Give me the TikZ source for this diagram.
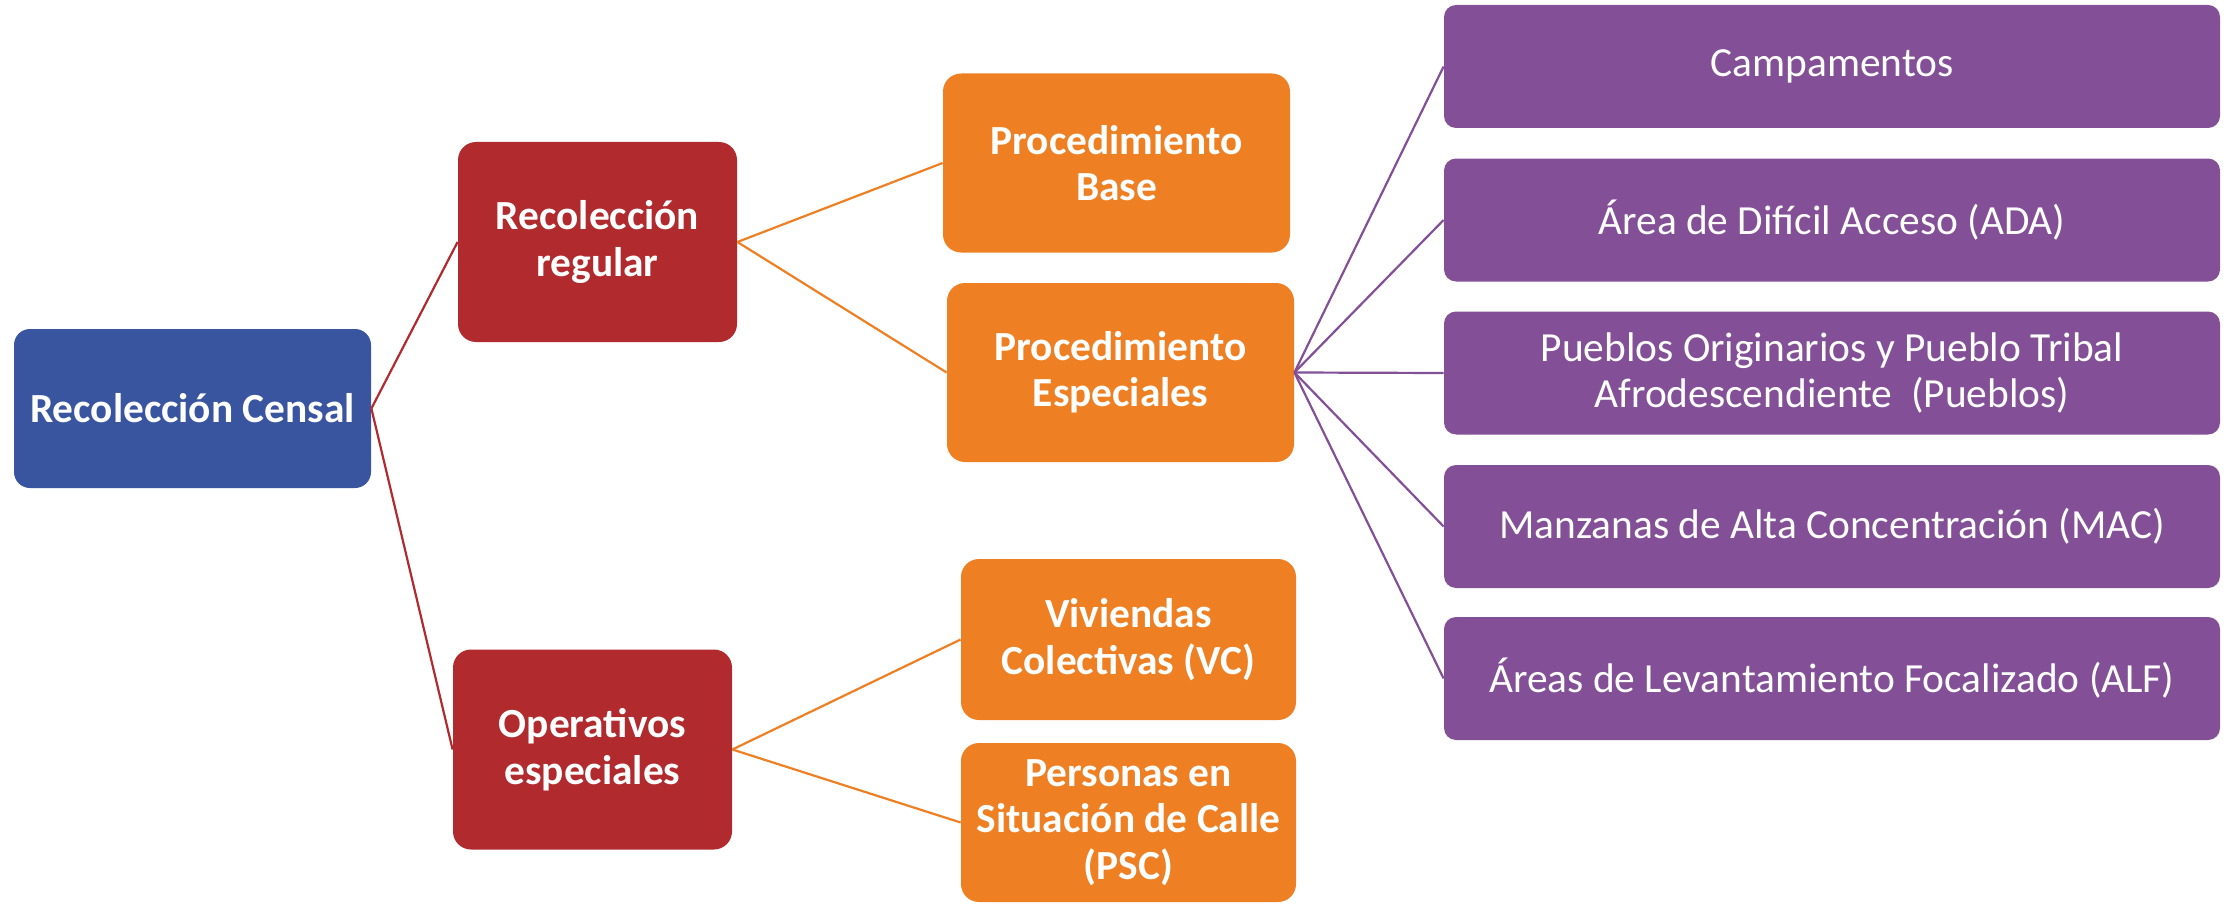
\documentclass[tikz,border=0pt]{standalone}
\usepackage{fontspec}
\setmainfont{Carlito}
\usepackage{xcolor}
\usepackage{tikz}
\usetikzlibrary{positioning}

\definecolor{censoblue}{RGB}{58,85,160}
\definecolor{censored}{RGB}{176,42,46}
\definecolor{censoorange}{RGB}{238,127,34}
\definecolor{censopurple}{RGB}{131,79,150}

\begin{document}
\begin{tikzpicture}[x=0.5pt, y=-0.5pt,
  box/.style={inner sep=0pt, align=center, text=white, font=\fontsize{20.7}{23.2}\selectfont},
  rootbox/.style={box, fill=censoblue, rounded corners=8pt, minimum width=178.5pt, minimum height=79.5pt, font=\fontsize{20.7}{23.2}\selectfont\bfseries},
  groupbox/.style={box, fill=censored, rounded corners=9pt, minimum width=139.5pt, minimum height=100pt, font=\fontsize{20.7}{23.2}\selectfont\bfseries},
  procbox/.style={box, fill=censoorange, rounded corners=9pt, minimum width=173.5pt, minimum height=89.5pt, font=\fontsize{20.7}{23.2}\selectfont\bfseries},
  areabox/.style={box, fill=censopurple, rounded corners=6pt, minimum width=388pt, minimum height=61.5pt},
  redline/.style={censored, line width=1.1pt},
  orangeline/.style={censoorange, line width=1.1pt},
  purpleline/.style={censopurple, line width=1.1pt}
]
\useasboundingbox (0,0) rectangle (2232,904);

\node[rootbox] (censal) at (192.5,408.5) {Recolección Censal};

\node[groupbox] (regular) at (597.5,242) {Recolección\\regular};
\node[groupbox] (operativos) at (592.5,749.5) {Operativos\\especiales};

\node[procbox] (base) at (1116.5,163) {Procedimiento\\Base};
\node[procbox] (especiales) at (1120.5,372.5) {Procedimiento\\Especiales};
\node[procbox, minimum width=167.5pt, minimum height=80.5pt] (vc) at (1128.5,639.5) {Viviendas\\Colectivas (VC)};
\node[procbox, minimum width=167.5pt, minimum height=79.5pt] (psc) at (1128.5,822.5) {Personas en\\Situación de Calle\\(PSC)};

\node[areabox] (campamentos) at (1832,66.5) {Campamentos};
\node[areabox] (ada) at (1832,220) {Área de Difícil Acceso (ADA)};
\node[areabox] (pueblos) at (1832,373) {Pueblos Originarios y Pueblo Tribal\\Afrodescendiente \ (Pueblos)};
\node[areabox] (mac) at (1832,526.5) {Manzanas de Alta Concentración (MAC)};
\node[areabox] (alf) at (1832,678.5) {Áreas de Levantamiento Focalizado (ALF)};

\draw[redline] (censal.east) -- (regular.west);
\draw[redline] (censal.east) -- (operativos.west);

\draw[orangeline] (regular.east) -- (base.west);
\draw[orangeline] (regular.east) -- (especiales.west);
\draw[orangeline] (operativos.east) -- (vc.west);
\draw[orangeline] (operativos.east) -- (psc.west);

\draw[purpleline] (especiales.east) -- (campamentos.west);
\draw[purpleline] (especiales.east) -- (ada.west);
\draw[purpleline] (especiales.east) -- (pueblos.west);
\draw[purpleline] (especiales.east) -- (mac.west);
\draw[purpleline] (especiales.east) -- (alf.west);

\end{tikzpicture}
\end{document}
